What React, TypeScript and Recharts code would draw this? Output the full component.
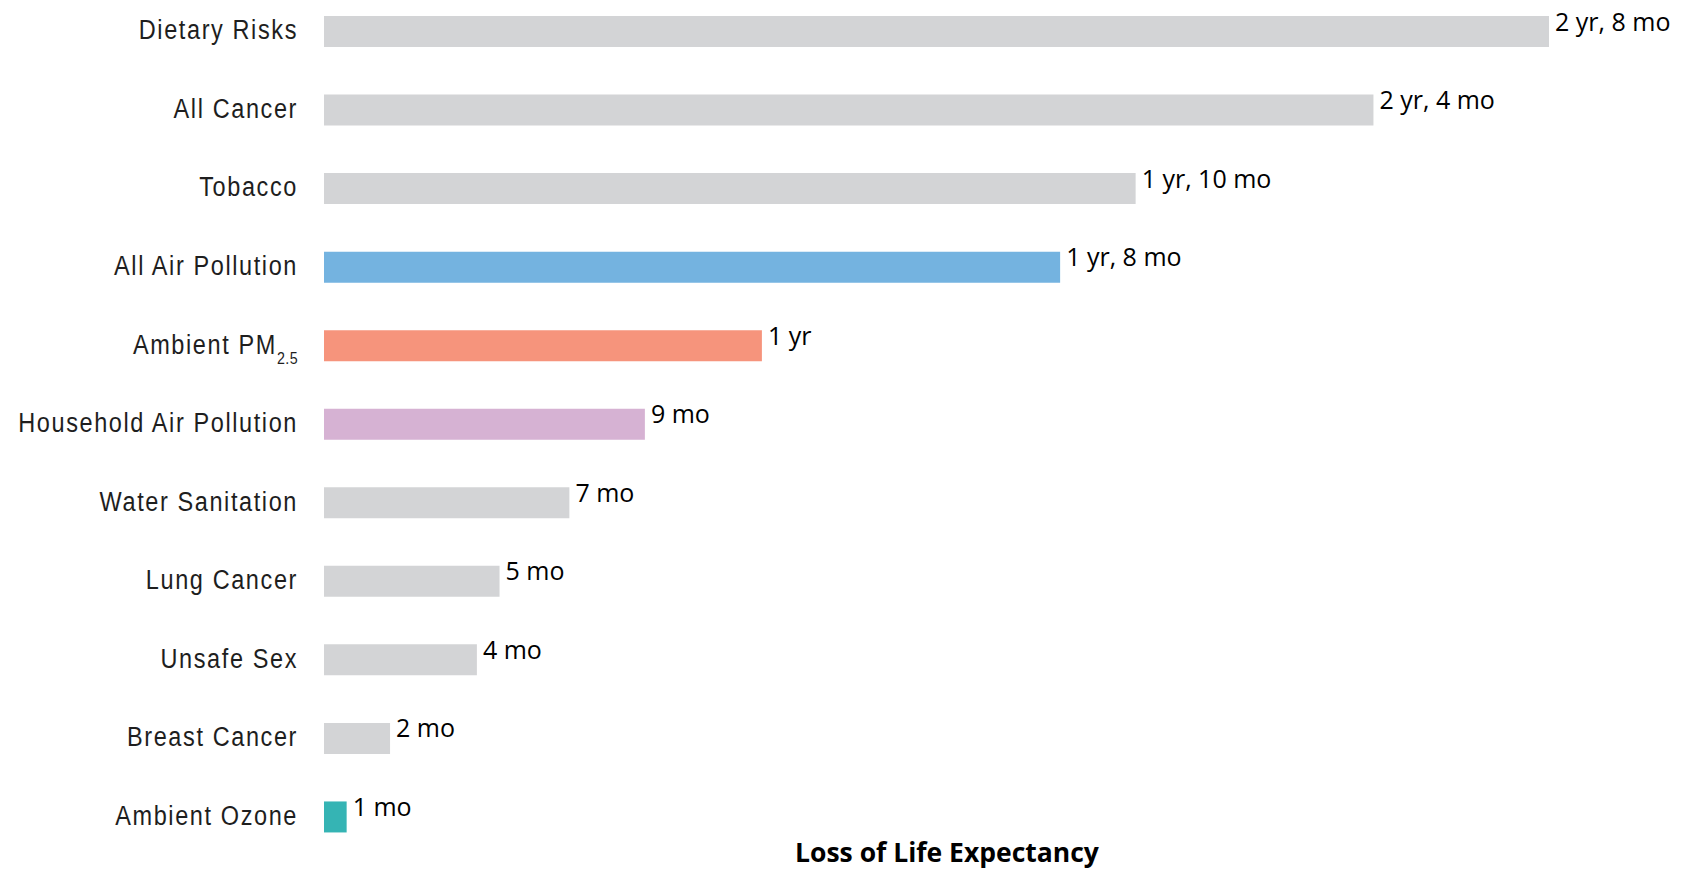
import { BarChart, Bar, XAxis, YAxis, Cell, LabelList } from 'recharts';

// Causes of lost life expectancy, in months
const causes = [
  'Dietary Risks',
  'All Cancer',
  'Tobacco',
  'All Air Pollution',
  'Ambient PM2.5',
  'Household Air Pollution',
  'Water Sanitation',
  'Lung Cancer',
  'Unsafe Sex',
  'Breast Cancer',
  'Ambient Ozone',
];
const monthsLost = [32.45, 27.8, 21.5, 19.5, 11.6, 8.5, 6.5, 4.65, 4.05, 1.75, 0.6];
const barColors = [
  '#d3d4d6',
  '#d3d4d6',
  '#d3d4d6',
  '#74b3e0',
  '#f6947c',
  '#d6b2d3',
  '#d3d4d6',
  '#d3d4d6',
  '#d3d4d6',
  '#d3d4d6',
  '#35b4b4',
];

const data = causes.map((name, i) => ({ name, months: monthsLost[i] }));

const LABEL_FONT = '"Liberation Sans", Arial, sans-serif';
const VALUE_FONT = '"Open Sans", "Noto Sans", sans-serif';

function formatMonths(value: number) {
  const total = Math.round(value);
  const yr = Math.floor(total / 12);
  const mo = total % 12;
  if (yr > 0 && mo > 0) return `${yr} yr, ${mo} mo`;
  if (yr > 0) return `${yr} yr`;
  return `${mo} mo`;
}

// condensed look: squeeze the glyphs horizontally, open up the tracking
function CauseTick(props: any) {
  const { x, y, payload } = props;
  const name: string = payload.value;
  const common = {
    x: 0,
    y: 0,
    dy: '0.29em',
    textAnchor: 'end' as const,
    fill: '#1e1e1e',
    fontFamily: LABEL_FONT,
    fontSize: 28,
    letterSpacing: 1.9,
  };
  return (
    <g transform={`translate(${x},${y}) scale(0.84,1)`}>
      {name === 'Ambient PM2.5' ? (
        <text {...common}>
          Ambient PM
          <tspan fontSize={17} dy={10} letterSpacing={0.5}>
            2.5
          </tspan>
        </text>
      ) : (
        <text {...common}>{name}</text>
      )}
    </g>
  );
}

function ValueLabel(props: any) {
  const { x, y, width, height, value } = props;
  return (
    <text
      x={x + width + 6}
      y={y + height / 2 - 1}
      fill="#000"
      fontFamily={VALUE_FONT}
      fontSize={25}
    >
      {formatMonths(value)}
    </text>
  );
}

export default function App() {
  return (
    <div style={{ position: 'absolute', left: 0, top: -8, width: 1683, height: 878 }}>
      <BarChart
        width={1683}
        height={864}
        data={data}
        layout="vertical"
        margin={{ top: 0, right: 0, bottom: 0, left: 0 }}
      >
        <XAxis type="number" domain={[0, 36]} hide />
        <YAxis
          type="category"
          dataKey="name"
          width={324}
          axisLine={false}
          tickLine={false}
          tickSize={0}
          tickMargin={26}
          tick={<CauseTick />}
          interval={0}
        />
        <Bar dataKey="months" barSize={31} isAnimationActive={false}>
          {data.map((d, i) => (
            <Cell key={d.name} fill={barColors[i]} />
          ))}
          <LabelList dataKey="months" content={<ValueLabel />} />
        </Bar>
      </BarChart>
      <div
        style={{
          position: 'absolute',
          left: 0,
          width: 1894,
          top: 845,
          textAlign: 'center',
          fontFamily: VALUE_FONT,
          fontWeight: 700,
          fontSize: 26.5,
          color: '#000',
          lineHeight: '30px',
        }}
      >
        Loss of Life Expectancy
      </div>
    </div>
  );
}
